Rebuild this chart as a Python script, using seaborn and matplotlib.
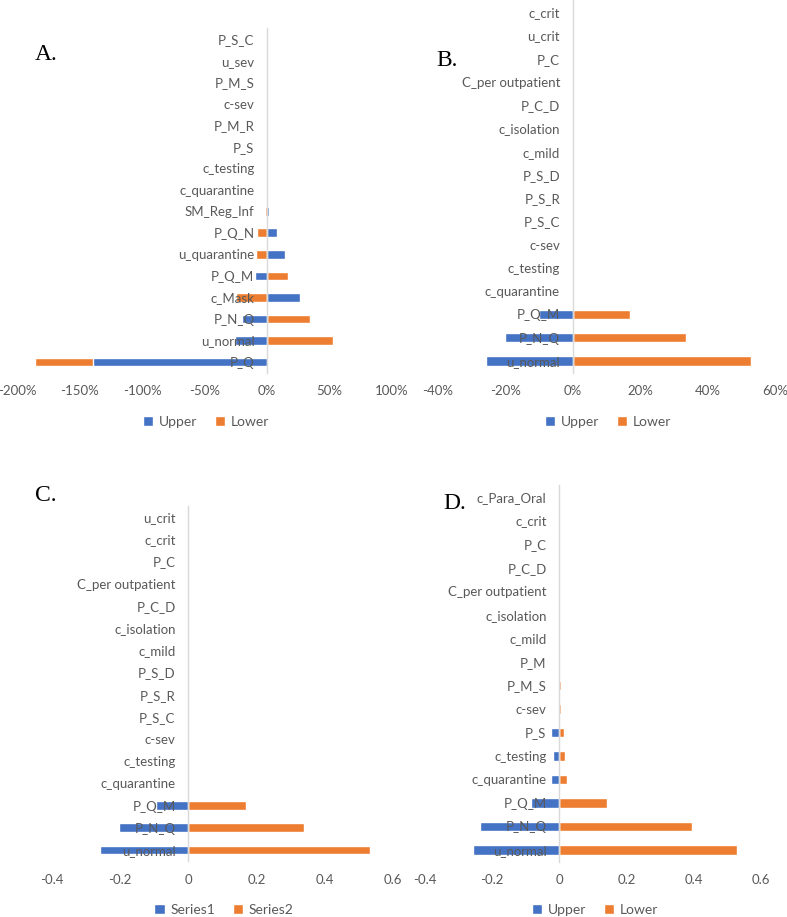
import matplotlib
matplotlib.use("Agg")
import matplotlib.pyplot as plt
import seaborn as sns
import numpy as np
from matplotlib.ticker import FuncFormatter, FixedLocator
from matplotlib.patches import Patch

# ---------------- data ----------------
a_categories = ["P_S_C", "u_sev", "P_M_S", "c-sev", "P_M_R", "P_S", "c_testing",
                "c_quarantine", "SM_Reg_Inf", "P_Q_N", "u_quarantine", "P_Q_M",
                "c_Mask", "P_N_Q", "u_normal", "P_Q"]
a_upper = [0, 0, 0, 0, 0, 0, 0, 0, 0.016, 0.08, 0.14, -0.10, 0.26, -0.20, -0.26, -1.39]
a_lower = [0, 0, 0, 0, 0, 0, 0, 0, -0.013, -0.08, -0.085, 0.17, -0.25, 0.34, 0.53, -1.86]

b_categories = ["c_crit", "u_crit", "P_C", "C_per outpatient", "P_C_D", "c_isolation",
                "c_mild", "P_S_D", "P_S_R", "P_S_C", "c-sev", "c_testing",
                "c_quarantine", "P_Q_M", "P_N_Q", "u_normal"]
b_upper = [0, 0, 0, 0, 0, 0, 0, 0, 0, 0, 0, 0, 0, -0.10, -0.20, -0.257]
b_lower = [0, 0, 0, 0, 0, 0, 0, 0, 0, 0, 0, 0, 0, 0.17, 0.335, 0.53]

c_categories = ["u_crit", "c_crit", "P_C", "C_per outpatient", "P_C_D", "c_isolation",
                "c_mild", "P_S_D", "P_S_R", "P_S_C", "c-sev", "c_testing",
                "c_quarantine", "P_Q_M", "P_N_Q", "u_normal"]
c_series1 = [0, 0, 0, 0, 0, 0, 0, 0, 0, 0, 0, 0, 0, -0.093, -0.203, -0.259]
c_series2 = [0, 0, 0, 0, 0, 0, 0, 0, 0, 0, 0, 0, 0, 0.169, 0.338, 0.532]

d_categories = ["c_Para_Oral", "c_crit", "P_C", "P_C_D", "C_per outpatient", "c_isolation",
                "c_mild", "P_M", "P_M_S", "c-sev", "P_S", "c_testing",
                "c_quarantine", "P_Q_M", "P_N_Q", "u_normal"]
d_upper = [0, 0, 0, 0, 0, 0, 0, 0, -0.004, -0.004, -0.023, -0.018, -0.024, -0.084, -0.236, -0.256]
d_lower = [0, 0, 0, 0, 0, 0, 0, 0, 0.005, 0.005, 0.015, 0.019, 0.025, 0.142, 0.396, 0.530]

a_ticks = [-2.0, -1.5, -1.0, -0.5, 0.0, 0.5, 1.0]
b_ticks = [-0.4, -0.2, 0.0, 0.2, 0.4, 0.6]
cd_ticks = [-0.4, -0.2, 0.0, 0.2, 0.4, 0.6]

# ---------------- style ----------------
sns.set_theme(style="white")
plt.rcParams["font.family"] = ["Lato", "DejaVu Sans"]

BLUE = "#4472C4"
ORANGE = "#ED7D31"
TXT = "#595959"
AXC = "#D9D9D9"

fig = plt.figure(figsize=(7.87, 9.17), dpi=100)

W, H = 787.0, 917.0


def px_axes(x0, x1, y0, y1):
    return fig.add_axes([x0 / W, 1 - y1 / H, (x1 - x0) / W, (y1 - y0) / H])


def panel(ax, cats, s1, s2, names, ticks, pct, letter, letter_xy, leg_center):
    # draw second series first, first series on top
    sns.barplot(x=s2, y=cats, orient="h", color=ORANGE, width=0.4, ax=ax,
                saturation=1)
    sns.barplot(x=s1, y=cats, orient="h", color=BLUE, width=0.4, ax=ax,
                saturation=1)
    if ax.get_legend() is not None:
        ax.get_legend().remove()
    ax.set_xlim(ticks[0], ticks[-1])
    ax.set_ylim(len(cats) - 0.5, -0.5)
    ax.set_xlabel("")
    ax.set_ylabel("")
    ax.set_facecolor("none")
    ax.set_axisbelow(False)
    for s in ["top", "right", "bottom"]:
        ax.spines[s].set_visible(False)
    ax.spines["left"].set_position(("data", 0))
    ax.spines["left"].set_color(AXC)
    ax.spines["left"].set_linewidth(1.0)
    ax.xaxis.set_major_locator(FixedLocator(ticks))
    if pct:
        ax.xaxis.set_major_formatter(FuncFormatter(lambda v, p: f"{v*100:.0f}%"))
    else:
        ax.xaxis.set_major_formatter(FuncFormatter(lambda v, p: f"{np.round(v, 2):g}"))
    ax.tick_params(axis="x", length=0, pad=9, labelsize=9.5, labelcolor=TXT)
    ax.tick_params(axis="y", length=0, pad=9, labelsize=9.5, labelcolor=TXT)
    fig.text(letter_xy[0] / W, 1 - letter_xy[1] / H, letter, family="Liberation Serif",
             fontsize=17, color="black", ha="left", va="center")
    handles = [Patch(facecolor=BLUE, label=names[0]), Patch(facecolor=ORANGE, label=names[1])]
    fig.legend(handles=handles, loc="center", ncol=2, frameon=False,
               bbox_to_anchor=(leg_center[0] / W, 1 - leg_center[1] / H),
               handlelength=0.75, handleheight=0.75, handletextpad=0.4,
               columnspacing=1.3, fontsize=10, labelcolor=TXT)


axA = px_axes(17, 392, 28.25, 372.75)
panel(axA, a_categories, a_upper, a_lower, ["Upper", "Lower"], a_ticks, True,
      "A.", (35, 55), (206, 422))

axB = px_axes(437.7, 775, 0.4, 372.6)
panel(axB, b_categories, b_upper, b_lower, ["Upper", "Lower"], b_ticks, True,
      "B.", (436, 61), (608, 422))

axC = px_axes(51.4, 393, 505.9, 861.1)
panel(axC, c_categories, c_series1, c_series2, ["Series1", "Series2"], cd_ticks, False,
      "C.", (35, 495), (224, 910))

axD = px_axes(424.4, 761, 485.2, 861.8)
panel(axD, d_categories, d_upper, d_lower, ["Upper", "Lower"], cd_ticks, False,
      "D.", (443, 503), (595, 910))

fig.savefig("out.png", dpi=100)
